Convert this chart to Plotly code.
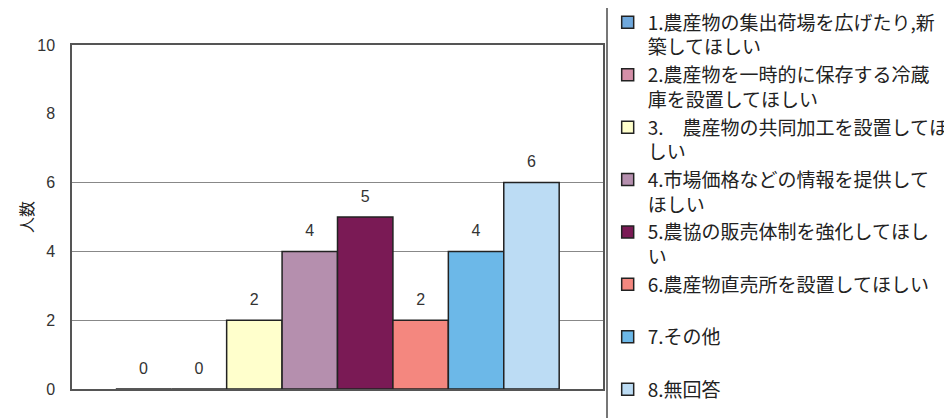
import plotly.graph_objects as go

labels = [
    "1.農産物の集出荷場を広げたり,新<br>築してほしい",
    "2.農産物を一時的に保存する冷蔵<br>庫を設置してほしい",
    "3.　農産物の共同加工を設置してほ<br>しい",
    "4.市場価格などの情報を提供して<br>ほしい",
    "5.農協の販売体制を強化してほし<br>い",
    "6.農産物直売所を設置してほしい<br> ",
    "7.その他<br> ",
    "8.無回答<br> ",
]
values = [0, 0, 2, 4, 5, 2, 4, 6]
colors = ["#6fa8dc", "#d48fa8", "#ffffcc", "#b58fae", "#7a1a55", "#f4877f", "#6cb8e8", "#bcdcf4"]
category = [""]

fig = go.Figure()
for lab, v, c in zip(labels, values, colors):
    fig.add_trace(go.Bar(
        x=category, y=[v], name=lab,
        marker=dict(color=c, line=dict(color="#222222", width=1.5)),
        text=[str(v)],
        texttemplate="<span style='font-size:16px'>%{text}</span><br> ",
        textposition="outside",
        textfont=dict(family="Liberation Sans, Arial", size=8, color="#333333"),
        cliponaxis=False,
    ))

fig.update_layout(
    width=952, height=410,
    margin=dict(l=64, r=357, t=37, b=29, autoexpand=False),
    paper_bgcolor="white", plot_bgcolor="white",
    barmode="group", bargap=0.165, bargroupgap=0,
    font=dict(family="Noto Sans CJK JP", color="#222222"),
    xaxis=dict(showticklabels=False, showline=True, linecolor="#555555", linewidth=1.5,
               mirror=True, ticks=""),
    yaxis=dict(range=[0, 10], tickvals=[0, 2, 4, 6, 8, 10], showgrid=False,
               showline=True, linecolor="#555555", linewidth=1.5, mirror=True,
               ticks="", ticklabelstandoff=12,
               tickfont=dict(family="Liberation Sans, Arial", size=16, color="#333333"),
               title=dict(text="人数", font=dict(family="Noto Sans CJK JP", size=16), standoff=0)),
    yaxis2=dict(range=[0, 10], overlaying="y", tickvals=[2, 4, 6], showticklabels=False,
                showgrid=True, gridcolor="#888888", gridwidth=1, zeroline=False),
    legend=dict(x=1.006, y=1.125, xanchor="left", yanchor="top",
                bordercolor="#777777", borderwidth=1.5, bgcolor="white",
                font=dict(family="Noto Sans CJK JP", size=19, color="#222222"),
                valign="top", itemwidth=30, maxheight=600),
    showlegend=True,
)
fig.add_trace(go.Scatter(x=category, y=[None], yaxis="y2", showlegend=False, hoverinfo="skip"))

fig.write_html("out.html")
